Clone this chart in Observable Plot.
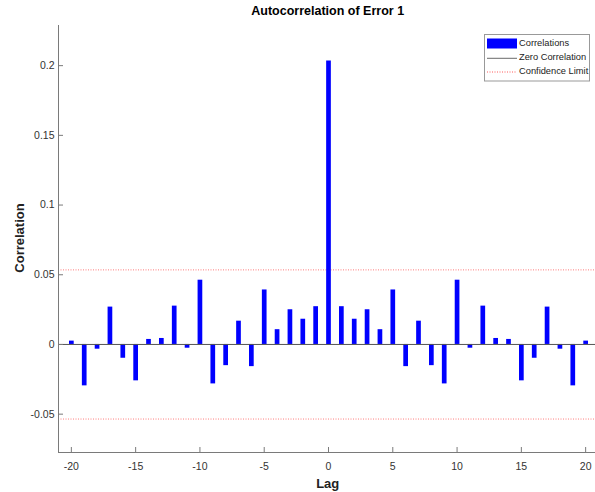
<!DOCTYPE html>
<html>
<head>
<meta charset="utf-8">
<script src="https://cdn.jsdelivr.net/npm/d3@7"></script>
<script src="https://cdn.jsdelivr.net/npm/@observablehq/plot@0.6"></script>
<style>
  html, body { margin: 0; padding: 0; background: #fff; }
  #chart svg { display: block; overflow: hidden; }
</style>
</head>
<body>
<div id="chart"></div>
<script>
const lags = [-20,-19,-18,-17,-16,-15,-14,-13,-12,-11,-10,-9,-8,-7,-6,-5,-4,-3,-2,-1,0,1,2,3,4,5,6,7,8,9,10,11,12,13,14,15,16,17,18,19,20];
const correlations = [0.0024,-0.0297,-0.0034,0.0268,-0.0099,-0.0261,0.0036,0.0043,0.0275,-0.0027,0.0461,-0.0283,-0.0152,0.0167,-0.0159,0.0391,0.0106,0.0249,0.0181,0.0271,0.2033,0.0271,0.0181,0.0249,0.0106,0.0391,-0.0159,0.0167,-0.0152,-0.0283,0.0461,-0.0027,0.0275,0.0043,0.0036,-0.0261,-0.0099,0.0268,-0.0034,-0.0297,0.0024];
const confidenceLimit = 0.0535;
const xTicks = [-20,-15,-10,-5,0,5,10,15,20];
const yTicks = [-0.05,0,0.05,0.1,0.15,0.2];
const xDomain = [-21, 21];
const yDomain = [-0.0775, 0.2288];

const data = lags.map((lag, i) => ({lag, r: correlations[i]}));
const font = "'Liberation Sans', Arial, sans-serif";

const plot = Plot.plot({
  width: 595,
  height: 492,
  marginLeft: 58,
  marginRight: -3,
  marginTop: 25,
  marginBottom: 40,
  style: {fontFamily: font, background: "#fff"},
  x: {domain: xDomain},
  y: {domain: yDomain},
  marks: [
    Plot.ruleY([confidenceLimit, -confidenceLimit], {stroke: "#ff3030", strokeWidth: 0.8, strokeDasharray: "1,1.5", strokeOpacity: 0.8}),
    Plot.ruleX(data, {x: "lag", y1: 0, y2: "r", stroke: "#0000ff", strokeWidth: 4.7}),
    Plot.ruleY([0], {stroke: "#555", strokeWidth: 1}),
    Plot.ruleX([xDomain[0]], {stroke: "#7a7a7a", strokeWidth: 1}),
    Plot.ruleY([yDomain[0]], {stroke: "#7a7a7a", strokeWidth: 1}),
    Plot.axisY({ticks: yTicks, tickFormat: d => String(d), tickSize: -5, tickPadding: 9, stroke: "#7a7a7a", fill: "#333", fontSize: 10.5, label: null}),
    Plot.axisX({ticks: xTicks, tickFormat: d => String(d), tickSize: -5, tickPadding: 15, stroke: "#7a7a7a", fill: "#333", fontSize: 10.5, label: null})
  ]
});

document.getElementById("chart").appendChild(plot);

const svg = d3.select(plot);
svg.append("text")
  .attr("x", 327.7).attr("y", 12).attr("text-anchor", "middle").attr("dominant-baseline", "middle")
  .attr("font-family", font).attr("font-weight", "bold").attr("font-size", 12.5).attr("fill", "#000")
  .text("Autocorrelation of Error 1");
svg.append("text")
  .attr("x", 327.7).attr("y", 485).attr("text-anchor", "middle").attr("dominant-baseline", "middle")
  .attr("font-family", font).attr("font-weight", "bold").attr("font-size", 13).attr("fill", "#222")
  .text("Lag");
svg.append("text")
  .attr("transform", "translate(21,238) rotate(-90)").attr("text-anchor", "middle").attr("dominant-baseline", "middle")
  .attr("font-family", font).attr("font-weight", "bold").attr("font-size", 13).attr("fill", "#222")
  .text("Correlation");

// legend
const lg = svg.append("g");
lg.append("rect").attr("x", 484.5).attr("y", 34.5).attr("width", 105).attr("height", 46.5)
  .attr("fill", "#fff").attr("stroke", "#999").attr("stroke-width", 1);
lg.append("rect").attr("x", 487).attr("y", 38.5).attr("width", 30).attr("height", 10).attr("fill", "#0000ff");
lg.append("line").attr("x1", 487).attr("x2", 517).attr("y1", 58.3).attr("y2", 58.3).attr("stroke", "#444").attr("stroke-width", 0.8);
lg.append("line").attr("x1", 487).attr("x2", 517).attr("y1", 72).attr("y2", 72).attr("stroke", "#ff3030").attr("stroke-width", 0.8).attr("stroke-dasharray", "1,1.5");
const labels = [["Correlations", 43.7], ["Zero Correlation", 58], ["Confidence Limit", 72]];
labels.forEach(([t, y]) => {
  lg.append("text").attr("x", 519).attr("y", y).attr("text-anchor", "start").attr("dominant-baseline", "middle")
    .attr("font-family", font).attr("font-size", 9.3).attr("fill", "#222").text(t);
});
</script>
</body>
</html>
